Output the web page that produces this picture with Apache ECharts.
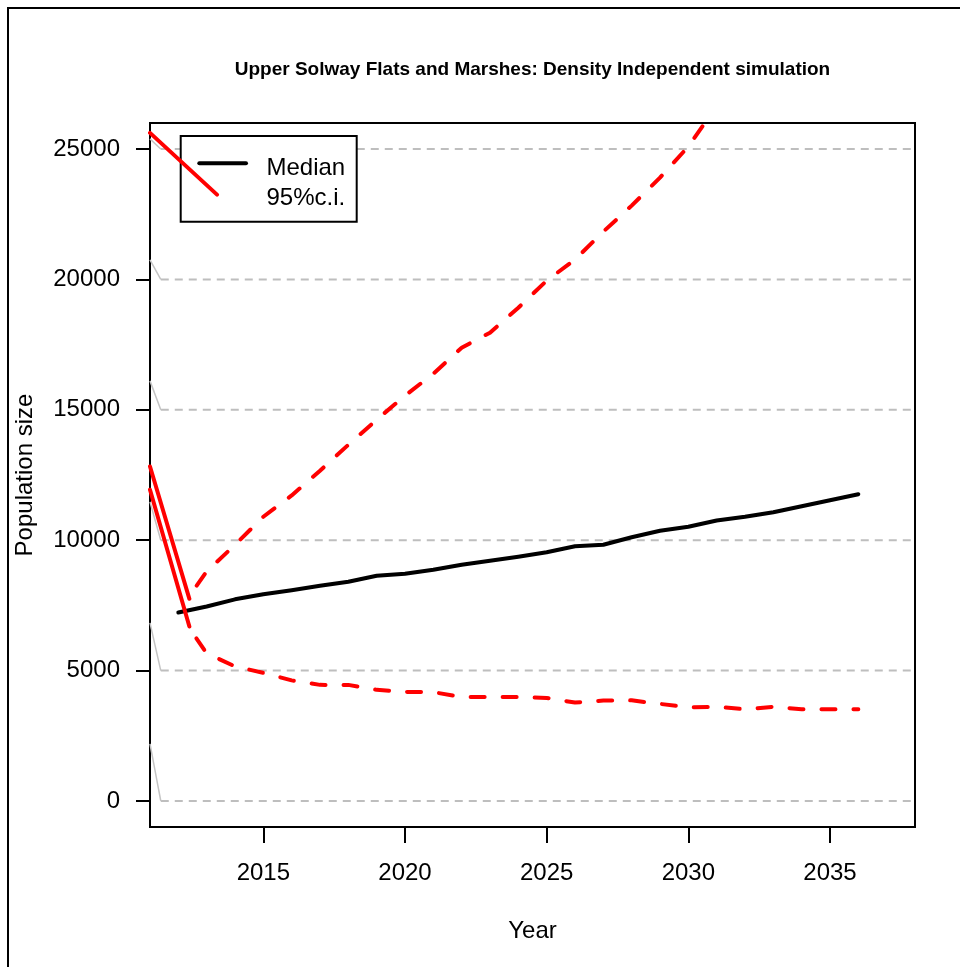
<!DOCTYPE html>
<html>
<head>
<meta charset="utf-8">
<script src="https://cdn.jsdelivr.net/npm/echarts@6/dist/echarts.min.js"></script>
<style>html,body{margin:0;padding:0;background:#fff;}#chart{width:960px;height:967px;}</style>
</head>
<body>
<div id="chart"></div>
<script>
// ---- data ----
const years = [2012,2013,2014,2015,2016,2017,2018,2019,2020,2021,2022,2023,2024,2025,2026,2027,2028,2029,2030,2031,2032,2033,2034,2035,2036];
const median = [7226,7456,7732,7924,8077,8250,8403,8634,8711,8864,9056,9210,9363,9536,9766,9823,10111,10361,10514,10756,10898,11071,11301,11531,11761];
const upperCI = [7250,8800,9823,10898,11715,12663,13660,14620,15541,16385,17383,17958,18917,19954,20760,21834,22832,23906,25100,26650,27800,29000,30200,31400,32700];
const lowerCI = [7250,5660,5160,4912,4624,4451,4450,4260,4183,4171,3990,3990,3990,3950,3772,3849,3857,3722,3588,3607,3519,3607,3519,3519,3519];
const xTicks = [2015,2020,2025,2030,2035];
const yTicks = [0,5000,10000,15000,20000,25000];
// stray rendering strokes seen in the reference (data units)
const gridStart = 2011.38;
const grayStrayOffsets = [2190,1830,1470,1110,750,390];
const redStrayEnd = 2012.39;
const redStrayUpper = [[2011,12828],[redStrayEnd,7751]];
const redStrayLower = [[2011,11934],[redStrayEnd,6688]];
const redStrayLegend = [[2011,25622],[2013.365,23254]];
const title = 'Upper Solway Flats and Marshes: Density Independent simulation';
const xName = 'Year';
const yName = 'Population size';
const legendNames = ['Median','95%c.i.'];

const FONT = '"Liberation Sans", Arial, sans-serif';
const chart = echarts.init(document.getElementById('chart'), null, {renderer:'canvas'});

const zip = (xs, ys) => xs.map((x,i)=>[x, ys[i]]);
const series = [];
yTicks.forEach((v,i)=>{
  series.push({type:'line', data:[[gridStart,v],[2038,v]], symbol:'none', silent:true, z:1,
    lineStyle:{color:'#bebebe', width:2, type:[8,6]}});
  series.push({type:'line', data:[[2011,v+grayStrayOffsets[i]],[gridStart,v]], symbol:'none', silent:true, z:1,
    lineStyle:{color:'#c4c4c4', width:1.5}});
});
series.push({name:'Median', type:'line', data:zip(years, median), symbol:'none', z:3,
  lineStyle:{color:'#000', width:4, cap:'round', join:'round'}});
const ciIndex = [series.length, series.length+1];
series.push({name:'Upper', type:'line', data:zip(years, upperCI), symbol:'none', z:3,
  lineStyle:{color:'#ff0000', width:4, type:[14,18], cap:'round', join:'round'}});
series.push({name:'Lower', type:'line', data:zip(years, lowerCI), symbol:'none', z:3,
  lineStyle:{color:'#ff0000', width:4, type:[14,18], cap:'round', join:'round'}});
[redStrayUpper, redStrayLower, redStrayLegend].forEach(d=>{
  series.push({type:'line', data:d, symbol:'none', silent:true, z:4,
    lineStyle:{color:'#ff0000', width:4, cap:'round'}});
});

const option = {
  animation:false,
  backgroundColor:'#fff',
  grid:{left:150, right:45, top:123, bottom:140, show:true, borderColor:'#000', borderWidth:2,
    backgroundColor:'rgba(0,0,0,0)', containLabel:false, outerBoundsMode:'none'},
  xAxis:{type:'value', min:2011, max:2038,
    axisLine:{show:false, onZero:false}, splitLine:{show:false},
    axisTick:{show:true, length:16, lineStyle:{color:'#000', width:2}, customValues:xTicks},
    axisLabel:{customValues:xTicks, fontSize:24, color:'#000', fontFamily:FONT, margin:34, formatter:v=>String(v)},
    name:xName, nameLocation:'middle', nameGap:92, nameMoveOverlap:false,
    nameTextStyle:{fontSize:24, color:'#000', fontFamily:FONT}},
  yAxis:{type:'value', min:-1000, max:26000,
    axisLine:{show:false, onZero:false}, splitLine:{show:false},
    axisTick:{show:true, length:14, lineStyle:{color:'#000', width:2}, customValues:yTicks},
    axisLabel:{customValues:yTicks, fontSize:24, color:'#000', fontFamily:FONT, margin:30, formatter:v=>String(v)},
    name:yName, nameLocation:'middle', nameGap:113, nameRotate:90, nameMoveOverlap:false,
    nameTextStyle:{fontSize:24, color:'#000', fontFamily:FONT}},
  graphic:[
    {type:'rect', z:0, shape:{x:8, y:8, width:1000, height:1000}, style:{fill:'none', stroke:'#000', lineWidth:2}, silent:true},
    {type:'text', z:5, x:532.5, y:70, style:{text:title, fontSize:19, fontWeight:'bold', fontFamily:FONT, fill:'#000', align:'center', verticalAlign:'middle'}},
    {type:'rect', z:2, shape:{x:180.7, y:136, width:176, height:85.7}, style:{fill:'#fff', stroke:'#000', lineWidth:2}, silent:true},
    {type:'line', z:2, shape:{x1:199.3, y1:163.3, x2:246, y2:163.3}, style:{stroke:'#000', lineWidth:4, lineCap:'round'}, silent:true},
    {type:'text', z:2, x:266.5, y:168.5, style:{text:legendNames[0], fontSize:24, fontFamily:FONT, fill:'#000', align:'left', verticalAlign:'middle'}},
    {type:'text', z:2, x:266.5, y:198.5, style:{text:legendNames[1], fontSize:24, fontFamily:FONT, fill:'#000', align:'left', verticalAlign:'middle'}}
  ],
  series:series
};
chart.setOption(option);

// hide the part of the dashed c.i. lines that the stray strokes replace in the reference
try {
  const px = chart.convertToPixel({xAxisIndex:0}, redStrayEnd);
  const W = 960;
  const p = Math.min(Math.max(px / W, 0), 1);
  const grad = {type:'linear', x:0, y:0, x2:W, y2:0, global:true, colorStops:[
    {offset:0, color:'rgba(255,0,0,0)'}, {offset:p, color:'rgba(255,0,0,0)'},
    {offset:p, color:'#ff0000'}, {offset:1, color:'#ff0000'}]};
  const upd = series.map((s,i)=> ciIndex.includes(i) ? {lineStyle:{color:grad}} : {});
  chart.setOption({series:upd});
} catch(e) {}
</script>
</body>
</html>
